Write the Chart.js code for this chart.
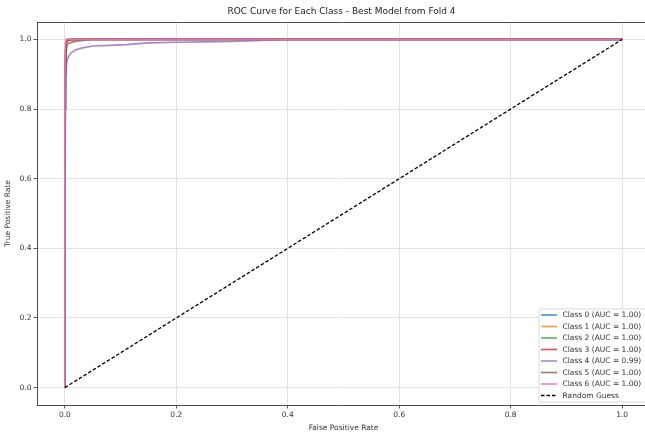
<!DOCTYPE html>
<html>
<head>
<meta charset="utf-8">
<script src="https://cdn.jsdelivr.net/npm/chart.js@4.4.1/dist/chart.umd.min.js"></script>
<style>
  html, body { margin: 0; padding: 0; background: #fff; overflow: hidden; width: 645px; height: 437px; }
  #wrap { position: absolute; left: 0; top: 0; width: 662px; height: 437px; }
</style>
</head>
<body>
<div id="wrap"><canvas id="c" width="662" height="437"></canvas></div>
<script>
// ---- Data ----
const chartTitle = "ROC Curve for Each Class - Best Model from Fold 4";
const xAxisLabel = "False Positive Rate";
const yAxisLabel = "True Positive Rate";
const tickValues = [0.0, 0.2, 0.4, 0.6, 0.8, 1.0];

const classNames = ["Class 0", "Class 1", "Class 2", "Class 3", "Class 4", "Class 5", "Class 6"];
const aucValues = [1.00, 1.00, 1.00, 1.00, 0.99, 1.00, 1.00];
const classColors = ["rgba(31,119,180,0.8)", "rgba(255,127,14,0.8)", "rgba(44,160,44,0.8)", "rgba(214,39,40,0.8)", "rgba(148,103,189,0.8)", "rgba(140,86,75,0.8)", "rgba(227,119,194,0.9)"];

const fpr0 = [0, 0, 0.001, 0.002, 0.004, 0.01, 1];
const tpr0 = [0, 0.55, 0.93, 0.98, 0.995, 1, 1];
const fpr1 = [0, 0, 0.001, 0.003, 0.006, 1];
const tpr1 = [0, 0.7, 0.96, 0.99, 1, 1];
const fpr2 = [0, 0, 0.001, 0.002, 0.005, 1];
const tpr2 = [0, 0.8, 0.97, 0.995, 1, 1];
const fpr3 = [0, 0, 0.001, 0.002, 0.004, 0.02, 1];
const tpr3 = [0, 0.6, 0.95, 0.985, 0.997, 1, 1];
const fpr4 = [0, 0, 0.001, 0.002, 0.003, 0.005, 0.008, 0.012, 0.02, 0.03, 0.05, 0.08, 0.11, 0.15, 0.2, 0.25, 0.3, 0.35, 0.38, 0.4, 1];
const tpr4 = [0, 0.3, 0.8, 0.9, 0.93, 0.945, 0.955, 0.963, 0.97, 0.975, 0.981, 0.983, 0.985, 0.99, 0.992, 0.993, 0.994, 0.997, 0.999, 1, 1];
const fpr5 = [0, 0, 0.001, 0.002, 0.004, 0.008, 0.02, 0.05, 1];
const tpr5 = [0, 0.5, 0.9, 0.96, 0.985, 0.99, 0.995, 1, 1];
const fpr6 = [0, 0, 0.001, 0.002, 1];
const tpr6 = [0, 0.9, 0.99, 1, 1];

const randomFpr = [0, 1];
const randomTpr = [0, 1];

const fprList = [fpr0, fpr1, fpr2, fpr3, fpr4, fpr5, fpr6];
const tprList = [tpr0, tpr1, tpr2, tpr3, tpr4, tpr5, tpr6];

// ---- Build datasets ----
const toPts = (xs, ys) => xs.map((x, i) => ({ x: x, y: ys[i] }));
const datasets = classNames.map((name, i) => ({
  label: name + " (AUC = " + aucValues[i].toFixed(2) + ")",
  data: toPts(fprList[i], tprList[i]),
  borderColor: classColors[i],
  backgroundColor: classColors[i],
  borderWidth: 1.6,
  pointRadius: 0,
  showLine: true,
  tension: 0,
  fill: false,
  order: 20 - i
}));
datasets.push({
  label: "Random Guess",
  data: toPts(randomFpr, randomTpr),
  borderColor: "#000000",
  backgroundColor: "#000000",
  borderWidth: 1.3,
  borderDash: [3.5, 2],
  pointRadius: 0,
  showLine: true,
  fill: false,
  order: 0
});

const FONT = "'DejaVu Sans', sans-serif";

const framePlugin = {
  id: 'frame',
  afterDraw(chart) {
    const ctx = chart.ctx, a = chart.chartArea;
    ctx.save();
    ctx.strokeStyle = '#3a3a3a';
    ctx.lineWidth = 0.9;
    ctx.beginPath();
    ctx.moveTo(a.left, a.top + 0.5);
    ctx.lineTo(a.right, a.top + 0.5);
    ctx.moveTo(a.right - 0.5, a.top);
    ctx.lineTo(a.right - 0.5, a.bottom);
    ctx.stroke();

    ctx.fillStyle = '#222';
    ctx.font = "9px " + FONT;
    ctx.textAlign = 'center';
    ctx.textBaseline = 'middle';
    ctx.fillText(chartTitle, (a.left + a.right) / 2 - 2, 12);

    const ds = chart.data.datasets;
    const boxL = 539, boxT = 309, boxR = 647, boxB = 402;
    ctx.fillStyle = 'rgba(255,255,255,0.85)';
    ctx.strokeStyle = '#d0d0d0';
    ctx.lineWidth = 0.8;
    const r = 2;
    ctx.beginPath();
    ctx.moveTo(boxL + r, boxT);
    ctx.lineTo(boxR - r, boxT);
    ctx.quadraticCurveTo(boxR, boxT, boxR, boxT + r);
    ctx.lineTo(boxR, boxB - r);
    ctx.quadraticCurveTo(boxR, boxB, boxR - r, boxB);
    ctx.lineTo(boxL + r, boxB);
    ctx.quadraticCurveTo(boxL, boxB, boxL, boxB - r);
    ctx.lineTo(boxL, boxT + r);
    ctx.quadraticCurveTo(boxL, boxT, boxL + r, boxT);
    ctx.closePath();
    ctx.fill();
    ctx.stroke();

    ctx.font = "7.5px " + FONT;
    ctx.textAlign = 'left';
    ctx.textBaseline = 'middle';
    for (let i = 0; i < ds.length; i++) {
      const y = 315 + i * 11.5;
      ctx.strokeStyle = ds[i].borderColor;
      ctx.lineWidth = ds[i].borderWidth;
      ctx.setLineDash(ds[i].borderDash || []);
      ctx.beginPath();
      ctx.moveTo(541, y);
      ctx.lineTo(557, y);
      ctx.stroke();
      ctx.setLineDash([]);
      ctx.fillStyle = '#333';
      ctx.fillText(ds[i].label, 562.5, y + 0.5);
    }
    ctx.restore();
  }
};

new Chart(document.getElementById('c'), {
  type: 'scatter',
  data: { datasets: datasets },
  options: {
    responsive: false,
    animation: false,
    devicePixelRatio: 1,
    layout: { padding: { top: 22, right: 12, left: 0, bottom: 0 } },
    plugins: {
      legend: { display: false },
      title: { display: false },
      tooltip: { enabled: false }
    },
    scales: {
      x: {
        type: 'linear',
        min: -0.05,
        max: 1.05,
        afterBuildTicks: (s) => { s.ticks = tickValues.map(v => ({ value: v })); },
        afterFit: (s) => { s.height = 32; },
        ticks: {
          callback: (v) => Number(v).toFixed(1),
          font: { family: FONT, size: 7.5 },
          color: '#333',
          padding: 2,
          maxRotation: 0,
          autoSkip: false
        },
        grid: { color: '#dcdcdc', lineWidth: 0.8, tickLength: 3.5, tickColor: '#333', drawTicks: true },
        border: { display: true, color: '#3a3a3a', width: 0.9 },
        title: { display: true, text: xAxisLabel, font: { family: FONT, size: 7.5 }, color: '#333', padding: { top: 0, bottom: 4 } }
      },
      y: {
        type: 'linear',
        min: -0.05,
        max: 1.05,
        afterBuildTicks: (s) => { s.ticks = tickValues.map(v => ({ value: v })); },
        afterFit: (s) => { s.width = 37; },
        ticks: {
          callback: (v) => Number(v).toFixed(1),
          font: { family: FONT, size: 7.5 },
          color: '#333',
          padding: 2,
          autoSkip: false
        },
        grid: { color: '#dcdcdc', lineWidth: 0.8, tickLength: 3.5, tickColor: '#333', drawTicks: true },
        border: { display: true, color: '#3a3a3a', width: 0.9 },
        title: { display: true, text: yAxisLabel, font: { family: FONT, size: 7.5 }, color: '#333', padding: { top: 4, bottom: 0 } }
      }
    }
  },
  plugins: [framePlugin]
});
</script>
</body>
</html>
